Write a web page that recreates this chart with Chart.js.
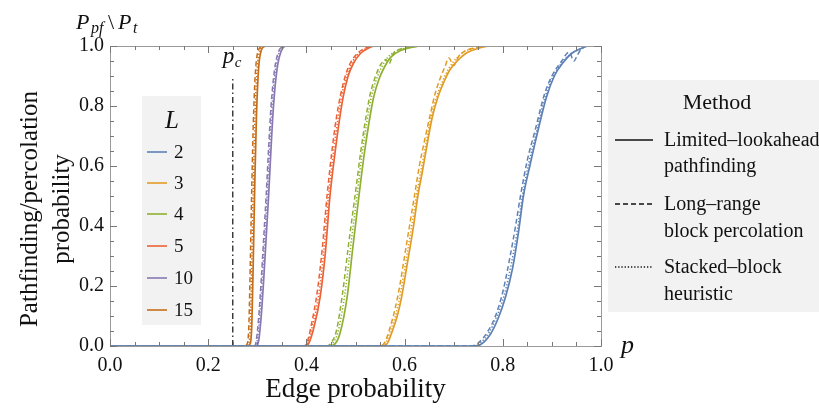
<!DOCTYPE html>
<html>
<head>
<meta charset="utf-8">
<script src="https://cdn.jsdelivr.net/npm/chart.js@4.4.1/dist/chart.umd.min.js"></script>
<style>
  html, body { margin: 0; padding: 0; background: #fff; }
  #chart { display: block; }
</style>
</head>
<body>
<canvas id="chart" width="819" height="409"></canvas>
<script>
/* ============ DATA ============ */
const sizes = ['2', '3', '4', '5', '10', '15'];
const colors = ['#5E81B5', '#E19C24', '#8FB032', '#EB6235', '#8778B3', '#C56E1A'];
const methodNames = [
  ['Limited\u2013lookahead', 'pathfinding'],
  ['Long\u2013range', 'block percolation'],
  ['Stacked\u2013block', 'heuristic'],
];
const xTickLabels = ['0.0', '0.2', '0.4', '0.6', '0.8', '1.0'];
const yTickLabels = ['0.0', '0.2', '0.4', '0.6', '0.8', '1.0'];

// percolation threshold marker
const pcP = [0.25, 0.25];
const pcY = [0, 0.9];

// L = 2
const l2SolidP = [0, 0.74, 0.755, 0.775, 0.79, 0.805, 0.82, 0.832, 0.842, 0.855, 0.869, 0.889, 0.905, 0.923, 0.94, 0.957, 0.975, 1];
const l2SolidY = [0, 0, 0.005, 0.04, 0.09, 0.16, 0.26, 0.38, 0.5, 0.6, 0.7, 0.83, 0.9, 0.945, 0.975, 0.99, 1, 1];
const l2DashP = [0, 0.735, 0.75, 0.77, 0.785, 0.8, 0.815, 0.826, 0.836, 0.85, 0.866, 0.885, 0.9, 0.92, 0.935, 0.945, 0.952, 0.96, 0.975, 1];
const l2DashY = [0, 0, 0.01, 0.05, 0.1, 0.18, 0.3, 0.4, 0.5, 0.62, 0.72, 0.84, 0.9, 0.95, 0.98, 0.95, 0.97, 0.99, 1, 1];
const l2DotP = [0, 0.738, 0.752, 0.772, 0.788, 0.803, 0.818, 0.83, 0.84, 0.853, 0.868, 0.887, 0.903, 0.922, 0.94, 0.958, 0.975, 1];
const l2DotY = [0, 0, 0.008, 0.045, 0.1, 0.17, 0.28, 0.39, 0.5, 0.61, 0.71, 0.835, 0.9, 0.948, 0.976, 0.99, 1, 1];

// L = 3
const l3SolidP = [0, 0.55, 0.563, 0.575, 0.585, 0.594, 0.605, 0.617, 0.627, 0.636, 0.645, 0.656, 0.668, 0.68, 0.692, 0.71, 0.726, 0.75, 0.775, 1];
const l3SolidY = [0, 0, 0.005, 0.05, 0.1, 0.164, 0.27, 0.387, 0.5, 0.58, 0.664, 0.76, 0.831, 0.88, 0.92, 0.955, 0.977, 0.992, 1, 1];
const l3DashP = [0, 0.545, 0.558, 0.57, 0.58, 0.59, 0.6, 0.61, 0.62, 0.63, 0.64, 0.652, 0.662, 0.672, 0.682, 0.69, 0.7, 0.71, 0.725, 0.75, 0.775, 1];
const l3DashY = [0, 0, 0.008, 0.06, 0.12, 0.2, 0.3, 0.4, 0.5, 0.6, 0.68, 0.77, 0.84, 0.89, 0.93, 0.96, 0.935, 0.965, 0.985, 0.995, 1, 1];
const l3DotP = [0, 0.548, 0.56, 0.572, 0.583, 0.592, 0.603, 0.614, 0.624, 0.634, 0.643, 0.654, 0.666, 0.678, 0.69, 0.705, 0.72, 0.745, 0.77, 1];
const l3DotY = [0, 0, 0.006, 0.055, 0.11, 0.18, 0.285, 0.395, 0.5, 0.59, 0.67, 0.765, 0.835, 0.885, 0.925, 0.958, 0.98, 0.993, 1, 1];

// L = 4
const l4SolidP = [0, 0.447, 0.457, 0.468, 0.483, 0.494, 0.507, 0.517, 0.527, 0.537, 0.548, 0.559, 0.572, 0.592, 0.616, 0.636, 1];
const l4SolidY = [0, 0, 0.005, 0.04, 0.164, 0.32, 0.5, 0.63, 0.74, 0.83, 0.89, 0.93, 0.963, 0.985, 0.996, 1, 1];
const l4DashP = [0, 0.442, 0.45, 0.461, 0.474, 0.486, 0.499, 0.51, 0.52, 0.53, 0.541, 0.552, 0.562, 0.568, 0.577, 0.592, 0.616, 0.636, 1];
const l4DashY = [0, 0, 0.01, 0.05, 0.18, 0.34, 0.5, 0.64, 0.75, 0.84, 0.9, 0.94, 0.955, 0.94, 0.975, 0.99, 0.997, 1, 1];
const l4DotP = [0, 0.444, 0.453, 0.464, 0.478, 0.49, 0.503, 0.513, 0.523, 0.533, 0.544, 0.555, 0.567, 0.59, 0.613, 0.636, 1];
const l4DotY = [0, 0, 0.008, 0.045, 0.17, 0.33, 0.5, 0.635, 0.745, 0.835, 0.895, 0.935, 0.965, 0.987, 0.997, 1, 1];

// L = 5
const l5SolidP = [0, 0.398, 0.405, 0.415, 0.428, 0.438, 0.448, 0.458, 0.467, 0.475, 0.485, 0.495, 0.51, 0.525, 0.54, 1];
const l5SolidY = [0, 0, 0.01, 0.06, 0.164, 0.3, 0.5, 0.64, 0.75, 0.831, 0.9, 0.94, 0.975, 0.992, 1, 1];
const l5DashP = [0, 0.395, 0.401, 0.41, 0.422, 0.432, 0.442, 0.452, 0.461, 0.47, 0.48, 0.49, 0.505, 0.52, 0.538, 1];
const l5DashY = [0, 0, 0.01, 0.07, 0.18, 0.32, 0.5, 0.65, 0.76, 0.84, 0.905, 0.945, 0.977, 0.993, 1, 1];
const l5DotP = [0, 0.396, 0.403, 0.412, 0.425, 0.435, 0.445, 0.455, 0.464, 0.472, 0.482, 0.492, 0.507, 0.522, 0.538, 1];
const l5DotY = [0, 0, 0.01, 0.065, 0.17, 0.31, 0.5, 0.645, 0.755, 0.835, 0.902, 0.942, 0.976, 0.992, 1, 1];

// L = 10
const l10SolidP = [0, 0.298, 0.303, 0.308, 0.313, 0.318, 0.323, 0.328, 0.333, 0.34, 0.348, 0.36, 1];
const l10SolidY = [0, 0, 0.02, 0.1, 0.22, 0.36, 0.5, 0.66, 0.8, 0.92, 0.98, 1, 1];
const l10DashP = [0, 0.294, 0.298, 0.303, 0.308, 0.313, 0.318, 0.323, 0.328, 0.335, 0.343, 0.355, 1];
const l10DashY = [0, 0, 0.02, 0.1, 0.22, 0.36, 0.5, 0.66, 0.8, 0.92, 0.98, 1, 1];
const l10DotP = [0, 0.296, 0.3, 0.305, 0.31, 0.315, 0.32, 0.325, 0.33, 0.337, 0.345, 0.357, 1];
const l10DotY = [0, 0, 0.02, 0.1, 0.22, 0.36, 0.5, 0.66, 0.8, 0.92, 0.98, 1, 1];

// L = 15
const l15SolidP = [0, 0.28, 0.286, 0.289, 0.292, 0.295, 0.298, 0.301, 0.304, 0.308, 0.313, 0.32, 1];
const l15SolidY = [0, 0, 0.01, 0.08, 0.3, 0.55, 0.75, 0.88, 0.95, 0.985, 0.997, 1, 1];
const l15DashP = [0, 0.274, 0.28, 0.283, 0.286, 0.289, 0.292, 0.295, 0.298, 0.302, 0.307, 0.314, 1];
const l15DashY = [0, 0, 0.01, 0.08, 0.3, 0.55, 0.75, 0.88, 0.95, 0.985, 0.997, 1, 1];
const l15DotP = [0, 0.277, 0.283, 0.286, 0.289, 0.292, 0.295, 0.298, 0.301, 0.305, 0.31, 0.317, 1];
const l15DotY = [0, 0, 0.01, 0.08, 0.3, 0.55, 0.75, 0.88, 0.95, 0.985, 0.997, 1, 1];

/* ============ STYLE ============ */
const SERIF = "'Liberation Serif', 'Times New Roman', serif";
const methodDashes = [[], [5, 3], [1.3, 1.9]];
const frameColor = '#9a9a9a';
const legendFill = '#f2f2f2';

const curveSets = [
  [l2SolidP, l2SolidY, l2DashP, l2DashY, l2DotP, l2DotY],
  [l3SolidP, l3SolidY, l3DashP, l3DashY, l3DotP, l3DotY],
  [l4SolidP, l4SolidY, l4DashP, l4DashY, l4DotP, l4DotY],
  [l5SolidP, l5SolidY, l5DashP, l5DashY, l5DotP, l5DotY],
  [l10SolidP, l10SolidY, l10DashP, l10DashY, l10DotP, l10DotY],
  [l15SolidP, l15SolidY, l15DashP, l15DashY, l15DotP, l15DotY],
];

const toPoints = (xs, ys) => xs.map((x, i) => ({ x, y: ys[i] }));

const datasets = [];
curveSets.forEach((set, li) => {
  // dotted, dashed, then solid on top
  [2, 1, 0].forEach((m) => {
    datasets.push({
      label: `L=${sizes[li]} ${methodNames[m][0]}`,
      data: toPoints(set[m * 2], set[m * 2 + 1]),
      borderColor: colors[li],
      borderWidth: m === 0 ? 1.7 : 1.5,
      borderDash: methodDashes[m],
      pointRadius: 0,
      cubicInterpolationMode: 'monotone',
      fill: false,
    });
  });
});
datasets.push({
  label: 'pc',
  data: toPoints(pcP, pcY),
  borderColor: '#333',
  borderWidth: 1.4,
  borderDash: [6, 3, 1.5, 3],
  pointRadius: 0,
});

/* ============ DECORATION PLUGIN ============ */
// draws text pieces at fixed x positions: [text, font, x, dy]
function pieces(ctx, parts, y) {
  parts.forEach(([t, f, px, dy]) => {
    ctx.font = f;
    ctx.fillText(t, px, y + dy);
  });
}

const frameDecor = {
  id: 'frameDecor',
  afterDraw(chart) {
    const { ctx, chartArea: a, scales: { x, y } } = chart;
    ctx.save();

    // frame
    ctx.strokeStyle = frameColor;
    ctx.lineWidth = 1;
    ctx.setLineDash([]);
    ctx.strokeRect(a.left + 0.5, a.top + 0.5, a.right - a.left, a.bottom - a.top);

    // inward ticks on all sides
    ctx.strokeStyle = '#777';
    ctx.beginPath();
    for (let k = 0; k <= 20; k++) {
      const v = k * 0.05;
      const len = k % 4 === 0 ? 7 : 4;
      const px = Math.round(x.getPixelForValue(v)) + 0.5;
      ctx.moveTo(px, a.bottom); ctx.lineTo(px, a.bottom - len);
      ctx.moveTo(px, a.top); ctx.lineTo(px, a.top + len);
      const py = Math.round(y.getPixelForValue(v)) + 0.5;
      ctx.moveTo(a.left, py); ctx.lineTo(a.left + len, py);
      ctx.moveTo(a.right, py); ctx.lineTo(a.right - len, py);
    }
    ctx.stroke();

    ctx.fillStyle = '#111';
    ctx.textBaseline = 'alphabetic';
    ctx.textAlign = 'left';

    // y title (two rotated lines)
    ctx.save();
    ctx.translate(30, 209);
    ctx.rotate(-Math.PI / 2);
    ctx.textAlign = 'center';
    ctx.textBaseline = 'middle';
    ctx.font = `25px ${SERIF}`;
    ctx.fillText('Pathfinding/percolation', 0, 0);
    ctx.fillText('probability', 0, 32);
    ctx.restore();

    // top-left label P_pf \ P_t
    pieces(ctx, [
      ['P', `italic 22px ${SERIF}`, 76, 0],
      ['pf', `italic 16px ${SERIF}`, 91, 4],
      ['\\', `22px ${SERIF}`, 108, 0],
      ['P', `italic 22px ${SERIF}`, 118, 0],
      ['t', `italic 16px ${SERIF}`, 133, 4],
    ], 29);

    // p axis label
    ctx.font = `italic 26px ${SERIF}`;
    ctx.fillText('p', 621, 353);

    // p_c label
    const pcx = x.getPixelForValue(pcP[0]);
    pieces(ctx, [
      ['p', `italic 23px ${SERIF}`, pcx - 10, 0],
      ['c', `italic 15px ${SERIF}`, pcx + 2, 4],
    ], 63);

    // L legend
    ctx.fillStyle = legendFill;
    ctx.fillRect(142, 96, 59, 229);
    ctx.fillStyle = '#111';
    ctx.font = `italic 25px ${SERIF}`;
    ctx.textAlign = 'center';
    ctx.textBaseline = 'middle';
    ctx.fillText('L', 172, 121);
    ctx.textAlign = 'left';
    ctx.font = `19px ${SERIF}`;
    const rowsY = [152, 183, 214, 246, 278, 310];
    sizes.forEach((s, i) => {
      ctx.strokeStyle = colors[i];
      ctx.lineWidth = 1.6;
      ctx.beginPath();
      ctx.moveTo(147, rowsY[i]); ctx.lineTo(167, rowsY[i]);
      ctx.stroke();
      ctx.fillStyle = '#111';
      ctx.fillText(s, 174, rowsY[i] + 1);
    });

    // Method legend
    ctx.fillStyle = legendFill;
    ctx.fillRect(608, 80, 211, 232);
    ctx.fillStyle = '#111';
    ctx.textAlign = 'center';
    ctx.font = `22px ${SERIF}`;
    ctx.fillText('Method', 717, 103);
    ctx.textAlign = 'left';
    ctx.font = `20px ${SERIF}`;
    const mRows = [[140, 166], [204, 231], [267, 294]];
    methodNames.forEach((lines, i) => {
      ctx.strokeStyle = '#111';
      ctx.lineWidth = 1.6;
      ctx.setLineDash(methodDashes[i]);
      ctx.beginPath();
      ctx.moveTo(615, mRows[i][0]); ctx.lineTo(653, mRows[i][0]);
      ctx.stroke();
      ctx.fillText(lines[0], 664, mRows[i][0] + 1);
      ctx.fillText(lines[1], 664, mRows[i][1] + 1);
    });
    ctx.restore();
  },
};

/* ============ CHART ============ */
new Chart(document.getElementById('chart'), {
  type: 'line',
  data: { datasets },
  plugins: [frameDecor],
  options: {
    responsive: false,
    animation: false,
    layout: { padding: { left: 0, right: 218, top: 46, bottom: 0 } },
    plugins: { legend: { display: false }, tooltip: { enabled: false } },
    scales: {
      x: {
        type: 'linear',
        min: 0,
        max: 1,
        grid: { display: false, drawTicks: false },
        border: { display: false },
        afterFit: (s) => { s.height = 63; },
        ticks: {
          stepSize: 0.2,
          padding: 8,
          color: '#111',
          font: { family: SERIF, size: 20 },
          maxRotation: 0,
          callback: (v, i) => xTickLabels[i],
        },
        title: {
          display: true,
          text: 'Edge probability',
          color: '#111',
          font: { family: SERIF, size: 27 },
          padding: { top: 0, bottom: 3 },
        },
      },
      y: {
        min: 0,
        max: 1,
        grid: { display: false, drawTicks: false },
        border: { display: false },
        afterFit: (s) => { s.width = 110; },
        ticks: {
          stepSize: 0.2,
          padding: 6,
          color: '#111',
          font: { family: SERIF, size: 20 },
          callback: (v, i) => yTickLabels[i],
        },
      },
    },
  },
});
</script>
</body>
</html>
